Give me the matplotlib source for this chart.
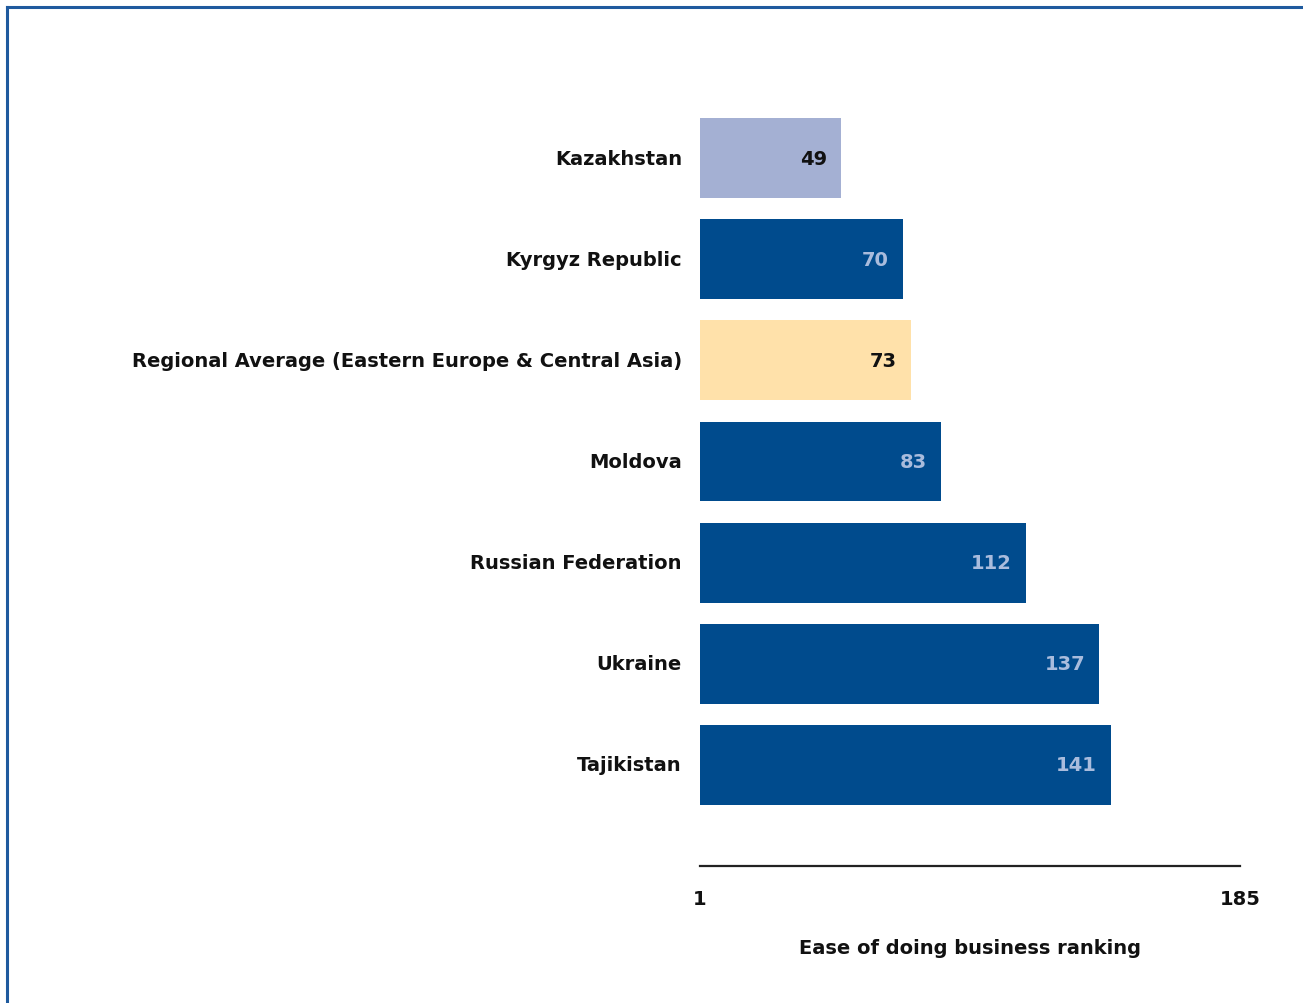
import matplotlib
matplotlib.use("Agg")
import matplotlib.pyplot as plt
from matplotlib.lines import Line2D

categories = ["Kazakhstan", "Kyrgyz Republic", "Regional Average (Eastern Europe & Central Asia)",
              "Moldova", "Russian Federation", "Ukraine", "Tajikistan"]
values = [49, 70, 73, 83, 112, 137, 141]
bar_colors = ["#A4B0D3", "#004B8D", "#FFE1AA", "#004B8D", "#004B8D", "#004B8D", "#004B8D"]
label_colors = ["#111111", "#A9BCDD", "#111111", "#A9BCDD", "#A9BCDD", "#A9BCDD", "#A9BCDD"]
x_min, x_max = 1, 185
tick_labels = ["1", "185"]
x_label = "Ease of doing business ranking"

plt.rcParams['font.family'] = ['DejaVu Sans']
FS = 14

fig = plt.figure(figsize=(13.03, 10.04), dpi=100)
ax = fig.add_axes([700/1303, 1-867/1004, 540/1303, (867-58)/1004])

pos = list(range(len(categories)))
ax.barh(pos, [v - x_min for v in values], left=x_min, height=0.79, color=bar_colors)
for p, v, c in zip(pos, values, label_colors):
    ax.text(v - 4.8, p, str(v), ha='right', va='center', color=c,
            fontsize=FS, fontweight='bold')

ax.set_xlim(x_min, x_max)
ax.set_ylim(7, -1)
ax.set_yticks(pos)
ax.set_yticklabels(categories, fontsize=FS, fontweight='bold', color='#111111',
                   va='center')
ax.tick_params(axis='y', length=0, pad=13)
ax.set_xticks([x_min, x_max])
ax.set_xticklabels(tick_labels, fontsize=FS, fontweight='bold', color='#111111')
ax.tick_params(axis='x', length=0, pad=16.5)
ax.set_xlabel(x_label, fontsize=FS, fontweight='bold', color='#111111', labelpad=22)
for s in ['top', 'right', 'left']:
    ax.spines[s].set_visible(False)
ax.spines['bottom'].set_color('#222222')
ax.spines['bottom'].set_linewidth(1.6)

# frame lines
fig.add_artist(Line2D([7/1303, 7/1303], [0, 1-8/1004], color='#1F5A9E', lw=2.2,
                      transform=fig.transFigure))
fig.add_artist(Line2D([7/1303, 1], [1-8/1004, 1-8/1004], color='#1F5A9E', lw=2.2,
                      transform=fig.transFigure))

fig.savefig("out.png", dpi=100)
